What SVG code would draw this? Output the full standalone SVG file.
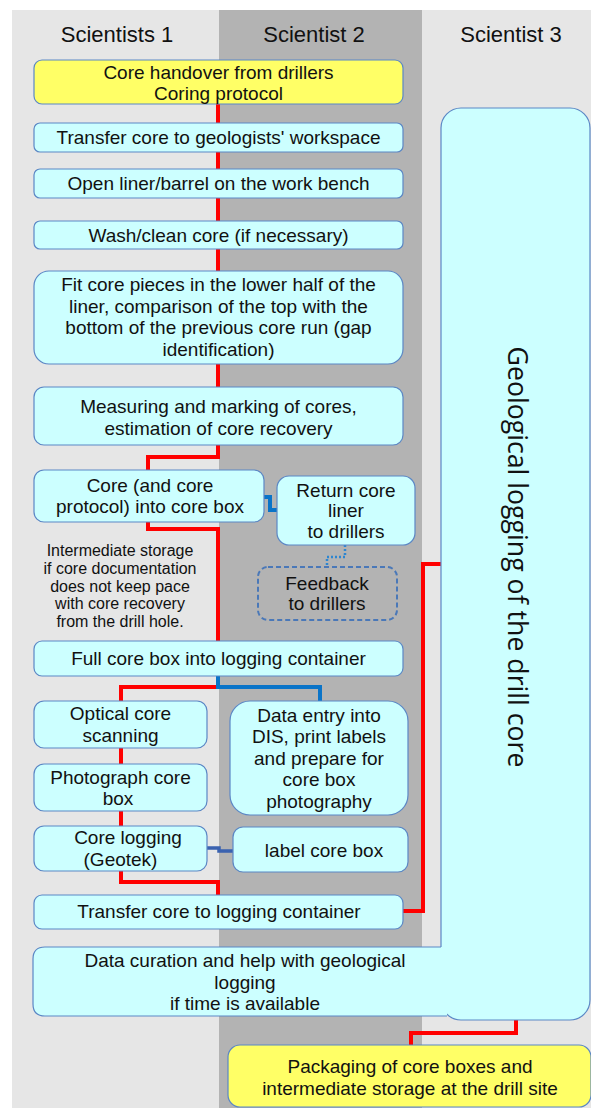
<svg xmlns="http://www.w3.org/2000/svg" width="591" height="1108" viewBox="0 0 591 1108">
<style>
.l1{fill:#e6e6e6}
.l2{fill:#b3b3b3}
.box{fill:#ccffff;stroke:#5b87c5;stroke-width:1.2}
.yel{fill:#ffff66;stroke:#5b87c5;stroke-width:1.2}
.t{font-family:"Liberation Sans",Arial,sans-serif;font-size:19px;text-anchor:middle;fill:#111}
.h{font-family:"Liberation Sans",Arial,sans-serif;font-size:22px;text-anchor:middle;fill:#111}
.note{font-family:"Liberation Sans",Arial,sans-serif;font-size:16px;text-anchor:middle;fill:#111}
.red{fill:none;stroke:#ff0000;stroke-width:4}
.blue{fill:none;stroke:#0a74c8;stroke-width:4}
.dblue{fill:none;stroke:#3a62b0;stroke-width:3.5}
.dot{fill:none;stroke:#2e86d0;stroke-width:2.5;stroke-dasharray:2 2}
.dash{fill:none;stroke:#4a78b8;stroke-width:2;stroke-dasharray:5 3}
</style>
<g id="lanes">
<rect x="0" y="0" width="591" height="1108" fill="#ffffff"/>
<rect class="l1" x="12" y="10" width="207" height="1098"/>
<rect class="l2" x="219" y="10" width="203" height="1098"/>
<rect class="l1" x="422" y="10" width="169" height="1098"/>
<text class="h" x="117" y="42">Scientists 1</text>
<text class="h" x="314" y="42">Scientist 2</text>
<text class="h" x="511" y="42">Scientist 3</text>
</g>
<g id="connectors">
<path class="red" d="M218,104V123"/>
<path class="red" d="M218,152V169"/>
<path class="red" d="M218,198V221"/>
<path class="red" d="M218,249V271"/>
<path class="red" d="M218,364V387"/>
<path class="red" d="M218,445V457H148V470"/>
<path class="red" d="M148,522V529H218V641"/>
<path class="red" d="M218,687H121V701"/>
<path class="blue" d="M218,676V687H320V701"/>
<path class="red" d="M121,748V764"/>
<path class="red" d="M121,811V826"/>
<path class="red" d="M121,871V882H218V895"/>
<path class="red" d="M403,911H423V564H441"/>
<path class="blue" d="M264,497H270V510H277"/>
<path class="dblue" d="M207,848H219V851H233"/>
<path class="dot" d="M345,545V557H327V567"/>
<path class="red" d="M516,1020V1033H411V1045"/>
</g>
<g id="geological">
<rect class="box" x="441" y="108" width="149" height="912" rx="20"/>
<text transform="translate(508 557) rotate(90)" x="0" y="0" font-family="'Open Sans','DejaVu Sans',sans-serif" font-size="28" text-anchor="middle" fill="#111" textLength="421" lengthAdjust="spacingAndGlyphs">Geological logging of the drill core</text>
</g>
<g id="curation">
<path d="M447,947H45Q33,947 33,959V1004Q33,1016 45,1016H447Z" fill="#ccffff"/>
<path d="M441,947H45Q33,947 33,959V1004Q33,1016 45,1016H447" fill="none" stroke="#5b87c5" stroke-width="1.2"/>
<text class="t" x="245" y="967">Data curation and help with geological</text>
<text class="t" x="245" y="988.5">logging</text>
<text class="t" x="245" y="1010">if time is available</text>
</g>
<g id="handover">
<rect class="yel" x="34" y="60" width="369" height="44" rx="8"/>
<text class="t" x="218.5" y="79">Core handover from drillers</text>
<text class="t" x="218.5" y="100">Coring protocol</text>
</g>
<g id="transfer1">
<rect class="box" x="34" y="123" width="369" height="29" rx="6"/>
<text class="t" x="218.5" y="144">Transfer core to geologists' workspace</text>
</g>
<g id="openliner">
<rect class="box" x="34" y="169" width="369" height="29" rx="6"/>
<text class="t" x="218.5" y="190">Open liner/barrel on the work bench</text>
</g>
<g id="wash">
<rect class="box" x="34" y="221" width="369" height="28" rx="6"/>
<text class="t" x="218.5" y="241.5">Wash/clean core (if necessary)</text>
</g>
<g id="fit">
<rect class="box" x="34" y="271" width="369" height="93" rx="15"/>
<text class="t" x="218.5" y="291">Fit core pieces in the lower half of the</text>
<text class="t" x="218.5" y="312.5">liner, comparison of the top with the</text>
<text class="t" x="218.5" y="334">bottom of the previous core run (gap</text>
<text class="t" x="218.5" y="355.5">identification)</text>
</g>
<g id="measure">
<rect class="box" x="34" y="387" width="369" height="58" rx="10"/>
<text class="t" x="218.5" y="413">Measuring and marking of cores,</text>
<text class="t" x="218.5" y="434.5">estimation of core recovery</text>
</g>
<g id="corebox">
<rect class="box" x="34" y="470" width="230" height="52" rx="10"/>
<text class="t" x="150" y="492">Core (and core</text>
<text class="t" x="150" y="513">protocol) into core box</text>
</g>
<g id="returnliner">
<rect class="box" x="277" y="476" width="138" height="69" rx="12"/>
<text class="t" x="346" y="496.5">Return core</text>
<text class="t" x="346" y="517">liner</text>
<text class="t" x="346" y="538">to drillers</text>
</g>
<g id="feedback">
<rect class="dash" x="258" y="567" width="139" height="53" rx="10"/>
<text class="t" x="327" y="590">Feedback</text>
<text class="t" x="327" y="610">to drillers</text>
</g>
<g id="note">
<text class="note" x="120" y="556">Intermediate storage</text>
<text class="note" x="120" y="574">if core documentation</text>
<text class="note" x="120" y="591.5">does not keep pace</text>
<text class="note" x="120" y="609">with core recovery</text>
<text class="note" x="120" y="627">from the drill hole.</text>
</g>
<g id="fullbox">
<rect class="box" x="34" y="641" width="369" height="35" rx="8"/>
<text class="t" x="218.5" y="665">Full core box into logging container</text>
</g>
<g id="optical">
<rect class="box" x="34" y="701" width="173" height="47" rx="10"/>
<text class="t" x="120.5" y="720">Optical core</text>
<text class="t" x="120.5" y="741.5">scanning</text>
</g>
<g id="photo">
<rect class="box" x="34" y="764" width="173" height="47" rx="10"/>
<text class="t" x="120.5" y="784">Photograph core</text>
<text class="t" x="118" y="805">box</text>
</g>
<g id="corelogging">
<rect class="box" x="34" y="826" width="173" height="45" rx="10"/>
<text class="t" x="128" y="844">Core logging</text>
<text class="t" x="120.5" y="866">(Geotek)</text>
</g>
<g id="dataentry">
<rect class="box" x="230" y="701" width="178" height="114" rx="20"/>
<text class="t" x="319" y="721.5">Data entry into</text>
<text class="t" x="319" y="743">DIS, print labels</text>
<text class="t" x="319" y="764.5">and prepare for</text>
<text class="t" x="319" y="786">core box</text>
<text class="t" x="319" y="807.5">photography</text>
</g>
<g id="label">
<rect class="box" x="233" y="827" width="175" height="45" rx="10"/>
<text class="t" x="324" y="856.5">label core box</text>
</g>
<g id="transfer2">
<rect class="box" x="34" y="895" width="369" height="34" rx="8"/>
<text class="t" x="219" y="918">Transfer core to logging container</text>
</g>
<g id="packaging">
<rect class="yel" x="228" y="1045" width="363" height="62" rx="12"/>
<text class="t" x="410" y="1073">Packaging of core boxes and</text>
<text class="t" x="410" y="1094.5">intermediate storage at the drill site</text>
</g>
</svg>
